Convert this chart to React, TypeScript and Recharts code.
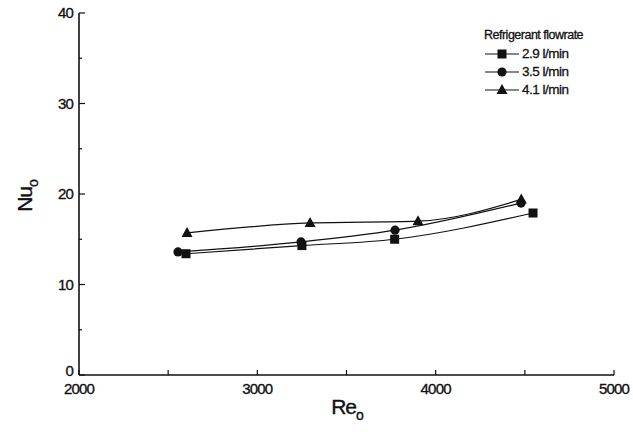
import { LineChart, Line, XAxis, YAxis, Legend } from "recharts";

// Re_o vs Nu_o for three refrigerant flowrates
const RE_29 = [2600, 3250, 3770, 4546];
const NU_29 = [13.4, 14.3, 15.0, 17.9];
const RE_35 = [2555, 3245, 3772, 4479];
const NU_35 = [13.6, 14.7, 16.0, 19.0];
const RE_41 = [2606, 3296, 3901, 4480];
const NU_41 = [15.7, 16.8, 17.0, 19.4];

const SERIES_NAMES = ["2.9 l/min", "3.5 l/min", "4.1 l/min"];
const LEGEND_TITLE = "Refrigerant flowrate";

const X_TICKS = [2000, 2500, 3000, 3500, 4000, 4500, 5000];
const Y_TICKS = [0, 5, 10, 15, 20, 25, 30, 35, 40];

const FONT = "'Liberation Sans', Arial, sans-serif";
const INK = "#111";

const toRows = (xs: number[], ys: number[]) => xs.map((re, i) => ({ re, nu: ys[i] }));

type Shape = "square" | "circle" | "triangle";
const SHAPES: Shape[] = ["square", "circle", "triangle"];

function Marker({ cx, cy, shape }: { cx: number; cy: number; shape: Shape }) {
  if (shape === "square") {
    return <rect x={cx - 4.5} y={cy - 4.5} width={9} height={9} fill={INK} />;
  }
  if (shape === "circle") {
    return <circle cx={cx} cy={cy} r={4.6} fill={INK} />;
  }
  return (
    <polygon
      points={`${cx},${cy - 6} ${cx - 5.5},${cy + 4} ${cx + 5.5},${cy + 4}`}
      fill={INK}
    />
  );
}

const dotFor = (shape: Shape) => (p: any) =>
  <Marker key={`${shape}-${p.index}`} cx={p.cx} cy={p.cy} shape={shape} />;

// scanned text looks a little heavier than plain Arial
const textInk = { fill: INK, stroke: INK, strokeWidth: 0.35, fontFamily: FONT };

function XTick({ x, y, payload }: any) {
  const v = payload.value as number;
  const major = v % 1000 === 0;
  return (
    <g>
      <line x1={x} y1={y} x2={x} y2={y - 5} stroke={INK} strokeWidth={1.2} />
      {major && (
        <text x={x} y={y + 19} textAnchor="middle" fontSize={15} letterSpacing={-0.8} {...textInk}>
          {v}
        </text>
      )}
    </g>
  );
}

function YTick({ x, y, payload }: any) {
  const v = payload.value as number;
  const major = v % 10 === 0;
  return (
    <g>
      <line x1={x} y1={y} x2={x + (major ? 6 : 3)} y2={y} stroke={INK} strokeWidth={1.2} />
      {major && (
        <text x={x - 6} y={v === 0 ? y + 1 : y + 5} textAnchor="end" fontSize={15} letterSpacing={-0.8} {...textInk}>
          {v}
        </text>
      )}
    </g>
  );
}

function LegendBox() {
  return (
    <div style={{ fontFamily: FONT, color: INK, fontSize: 12.5, letterSpacing: -0.5, lineHeight: "18px", WebkitTextStroke: "0.3px #111" }}>
      <div style={{ marginBottom: 1 }}>{LEGEND_TITLE}</div>
      {SERIES_NAMES.map((name, i) => (
        <div key={name} style={{ display: "flex", alignItems: "center", height: 18 }}>
          <svg width={36} height={14}>
            <line x1={1} y1={7} x2={35} y2={7} stroke={INK} strokeWidth={1.2} />
            <Marker cx={18} cy={7} shape={SHAPES[i]} />
          </svg>
          <span style={{ fontSize: 13.5, marginLeft: 2 }}>{name}</span>
        </div>
      ))}
    </div>
  );
}

export default function App() {
  return (
    <div style={{ position: "fixed", left: 0, top: 0, background: "#fff" }}>
      <LineChart width={633} height={432} margin={{ top: 13, right: 19, bottom: 27, left: 29 }}>
        <XAxis
          dataKey="re"
          type="number"
          domain={[2000, 5000]}
          ticks={X_TICKS}
          tick={<XTick />}
          tickSize={0}
          tickMargin={0}
          tickLine={false}
          height={30}
          axisLine={{ stroke: INK, strokeWidth: 1.6 }}
          label={{
            content: () => (
              <text x={347} y={414} textAnchor="middle" fontSize={21} letterSpacing={-1} {...textInk}>
                Re<tspan fontSize={14} dy={6}>o</tspan>
              </text>
            ),
          }}
        />
        <XAxis xAxisId="top" orientation="top" type="number" domain={[2000, 5000]} height={0} tick={false} tickLine={false} axisLine={{ stroke: INK, strokeWidth: 1.6 }} />
        <YAxis
          type="number"
          domain={[0, 40]}
          ticks={Y_TICKS}
          tick={<YTick />}
          tickSize={0}
          tickMargin={0}
          tickLine={false}
          width={50}
          axisLine={{ stroke: INK, strokeWidth: 1.6 }}
          label={{
            content: () => (
              <text x={0} y={0} transform="translate(32 196) rotate(-90)" textAnchor="middle" fontSize={21} letterSpacing={-1} {...textInk}>
                Nu<tspan fontSize={14} dy={6}>o</tspan>
              </text>
            ),
          }}
        />
        <YAxis yAxisId="right" orientation="right" domain={[0, 40]} width={0} tick={false} tickLine={false} axisLine={{ stroke: INK, strokeWidth: 1.6 }} />
        <Legend
          layout="horizontal"
          verticalAlign="middle"
          align="center"
          content={() => <LegendBox />}
          wrapperStyle={{ left: 484, top: 26, width: 140, height: 80 }}
        />
        <Line data={toRows(RE_29, NU_29)} dataKey="nu" name={SERIES_NAMES[0]} type="monotone" stroke={INK} strokeWidth={1.2} dot={dotFor("square")} activeDot={false} isAnimationActive={false} />
        <Line data={toRows(RE_35, NU_35)} dataKey="nu" name={SERIES_NAMES[1]} type="monotone" stroke={INK} strokeWidth={1.2} dot={dotFor("circle")} activeDot={false} isAnimationActive={false} />
        <Line data={toRows(RE_41, NU_41)} dataKey="nu" name={SERIES_NAMES[2]} type="monotone" stroke={INK} strokeWidth={1.2} dot={dotFor("triangle")} activeDot={false} isAnimationActive={false} />
      </LineChart>
    </div>
  );
}
